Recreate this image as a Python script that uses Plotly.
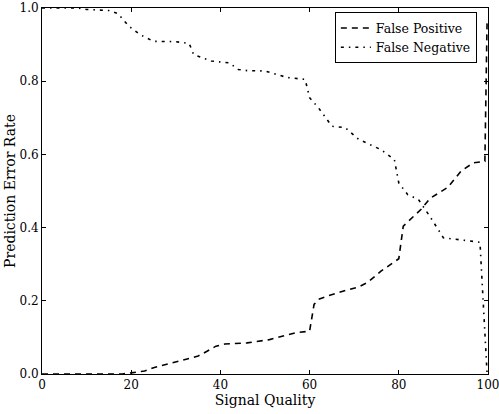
import plotly.graph_objects as go

fp_x = [0, 18, 20, 23, 25, 29, 32, 35, 37, 39, 41, 46, 51, 54, 57, 60, 61, 62, 64,
        68, 71, 73, 76, 80, 81, 85, 87, 91, 94, 96.7, 99.3, 99.8]
fp_y = [0, 0, 0.003, 0.008, 0.017, 0.03, 0.04, 0.049, 0.062, 0.076, 0.082, 0.085,
        0.094, 0.103, 0.113, 0.117, 0.19, 0.204, 0.213, 0.228, 0.238, 0.25, 0.281,
        0.315, 0.404, 0.45, 0.48, 0.51, 0.555, 0.577, 0.581, 0.97]

fn_x = [0, 8, 10, 15, 17, 19.5, 22, 25, 30, 33, 34, 38, 42, 44, 46, 50, 55, 59,
        60, 62, 65, 68, 71, 76, 79, 80, 82, 84.4, 87, 90, 95, 98.2, 99.8]
fn_y = [1.0, 1.0, 0.996, 0.993, 0.985, 0.95, 0.927, 0.909, 0.908, 0.903, 0.873,
        0.855, 0.85, 0.832, 0.829, 0.828, 0.81, 0.805, 0.755, 0.727, 0.677, 0.673,
        0.641, 0.613, 0.586, 0.522, 0.49, 0.477, 0.43, 0.372, 0.365, 0.36, 0.0]

x_ticks = [0, 20, 40, 60, 80, 100]
y_ticks = [0.0, 0.2, 0.4, 0.6, 0.8, 1.0]
y_tick_labels = ["0.0", "0.2", "0.4", "0.6", "0.8", "1.0"]

font = "DejaVu Serif"

fig = go.Figure()
fig.add_trace(go.Scatter(x=fp_x, y=fp_y, mode="lines", name="False Positive",
                         line=dict(color="black", width=1.6, dash="6px,5px")))
fig.add_trace(go.Scatter(x=fn_x, y=fn_y, mode="lines", name="False Negative",
                         line=dict(color="black", width=1.6, dash="3px,5px,1.5px,5px")))

axis_common = dict(showgrid=False, zeroline=False, showline=True, linecolor="black",
                   linewidth=1, mirror="ticks", ticks="inside", ticklen=4,
                   tickcolor="black", automargin=False, ticklabeloverflow="allow",
                   tickfont=dict(family=font, size=12, color="black"))

fig.update_layout(
    width=499, height=414,
    margin=dict(l=42, r=11, t=8, b=40),
    paper_bgcolor="white", plot_bgcolor="white",
    font=dict(family=font, color="black"),
    xaxis=dict(range=[0, 100], tickvals=x_ticks,
               title=dict(text="Signal Quality", font=dict(family=font, size=14), standoff=2),
               **axis_common),
    yaxis=dict(range=[0, 1.0], tickvals=y_ticks, ticktext=y_tick_labels,
               title=dict(text="Prediction Error Rate", font=dict(family=font, size=14), standoff=0),
               **axis_common),
    legend=dict(x=0.975, y=0.988, xanchor="right", yanchor="top",
                bordercolor="black", borderwidth=1, bgcolor="white",
                font=dict(family=font, size=12.5), itemwidth=30,
                tracegroupgap=0),
    showlegend=True,
)

fig.write_html("out.html", config={"displayModeBar": False},
               post_script="document.body.style.margin='0';")
